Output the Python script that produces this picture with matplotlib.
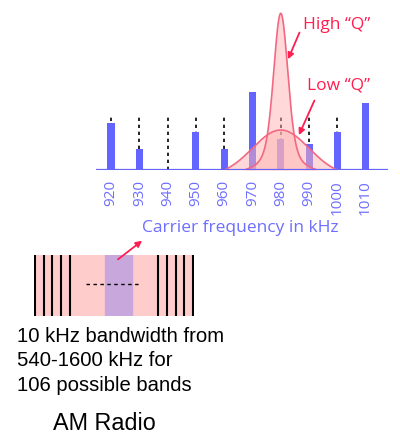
import numpy as np
import matplotlib
matplotlib.use('Agg')
import matplotlib.pyplot as plt

# carrier frequencies (kHz) and received signal strength of each station
freqs = [920, 930, 940, 950, 960, 970, 980, 990, 1000, 1010]
strength = [46.7, 21, 0, 38, 21, 78, 31.3, 25.7, 38, 66.7]
marker_h = 54          # dotted marker height for each channel
tick_labels = [str(f) for f in freqs]

# tuned circuit responses centred at 980 kHz
f0 = 980
high_peak, high_w, high_sigma, high_mix, high_cut = 156.7, 4.0, 2.4, 0.4, 13
low_peak, low_sigma, low_cut = 40, 10, 20

# band diagram: channel slot indices
left_lines = [0, 1, 2, 3, 4]
right_lines = [14, 15, 16, 17, 18]
sel_band = (8, 11)

W, H = 400, 447
fig = plt.figure(figsize=(W / 100, H / 100), dpi=100)

def fx(px):
    return px / W

def fy(py):
    return 1 - py / H

BLUE = '#6464ff'
TBLUE = '#6e6eff'
RED = '#ff1e50'
CURVE = '#f26882'
PINK = '#ffb4b4'

# ---- spectrum chart
ax = fig.add_axes([fx(96), fy(170), fx(292), 160 / H])
ax.set_xlim(914.7, 1017.9)
ax.set_ylim(0, 160)
ax.axis('off')

ax.vlines(freqs, 0, marker_h, colors='black', linestyles=(0, (2, 2.2)), lw=1.2, zorder=1)
ax.bar(freqs, strength, width=2.5, color=BLUE, zorder=2)
ax.axhline(0, color=BLUE, lw=1.6, zorder=5)

def high_q(f):
    # pseudo-voigt resonance, dropped to zero at the cut-off
    shape = lambda d: (high_mix / (1 + (d / high_w) ** 2)
                       + (1 - high_mix) * np.exp(-d ** 2 / (2 * high_sigma ** 2)))
    d = f - f0
    return high_peak * (shape(d) - shape(high_cut)) / (1 - shape(high_cut))

def low_q(f):
    G = lambda d: np.exp(-d ** 2 / (2 * low_sigma ** 2))
    d = f - f0
    return low_peak * (G(d) - G(low_cut)) / (1 - G(low_cut))

fh = np.linspace(f0 - high_cut, f0 + high_cut, 400)
fl = np.linspace(f0 - low_cut, f0 + low_cut, 400)
for fr, fn in ((fl, low_q), (fh, high_q)):
    y = fn(fr)
    ax.fill_between(fr, 0, y, color=PINK, alpha=0.5, lw=0, zorder=3)
    ax.plot(fr, y, color=CURVE, lw=1.2, zorder=4)

for f, lab in zip(freqs, tick_labels):
    ax.text(f, -10, lab, rotation=90, ha='center', va='top', color=TBLUE,
            fontsize=11, family='Open Sans')

ax.annotate('', xy=(982.2, high_q(982.2)), xytext=(987.0, 140),
            arrowprops=dict(arrowstyle='-|>', color=RED, lw=1.3, mutation_scale=9), zorder=6)
ax.annotate('', xy=(986.0, low_q(986.0)), xytext=(992.3, 72),
            arrowprops=dict(arrowstyle='-|>', color=RED, lw=1.3, mutation_scale=9), zorder=6)

fig.text(fx(303), fy(25), 'High \u201cQ\u201d', color=RED, fontsize=12.5,
         family='Open Sans', ha='left', va='center')
fig.text(fx(307), fy(85), 'Low \u201cQ\u201d', color=RED, fontsize=12.5,
         family='Open Sans', ha='left', va='center')
fig.text(fx(240), fy(228), 'Carrier frequency in kHz', color=TBLUE, fontsize=12.5,
         family='Open Sans', ha='center', va='center')

# ---- band diagram
axb = fig.add_axes([fx(34), fy(316), fx(160), 61 / H])
axb.set_xlim(-0.1, 18.1)
axb.set_ylim(0, 1)
axb.axis('off')
axb.axvspan(-0.1, 18.1, color='#ffcccc', zorder=0)
axb.axvspan(sel_band[0], sel_band[1], color='#c8a8dc', zorder=1)
axb.vlines(left_lines + right_lines, 0, 1, colors='black', lw=1.5, zorder=2)
axb.hlines(0.52, 5.8, 11.8, colors='black', linestyles=(0, (2.5, 2.5)), lw=1.0, zorder=3)
axb.annotate('', xy=(fx(144.3), fy(239)), xycoords='figure fraction',
             xytext=(9.2, 0.9), textcoords='data',
             arrowprops=dict(arrowstyle='-|>', color=RED, lw=1.3, mutation_scale=9),
             zorder=6, annotation_clip=False)

for i, line in enumerate(['10 kHz bandwidth from', '540-1600 kHz for', '106 possible bands']):
    fig.text(fx(16.7), fy(336.7 + i * 24.2), line, fontsize=14.6,
             family='Liberation Sans', ha='left', va='center')
fig.text(fx(104), fy(423), 'AM Radio', fontsize=16.8, family='Liberation Sans',
         ha='center', va='center')

fig.savefig('out.png', dpi=100)
